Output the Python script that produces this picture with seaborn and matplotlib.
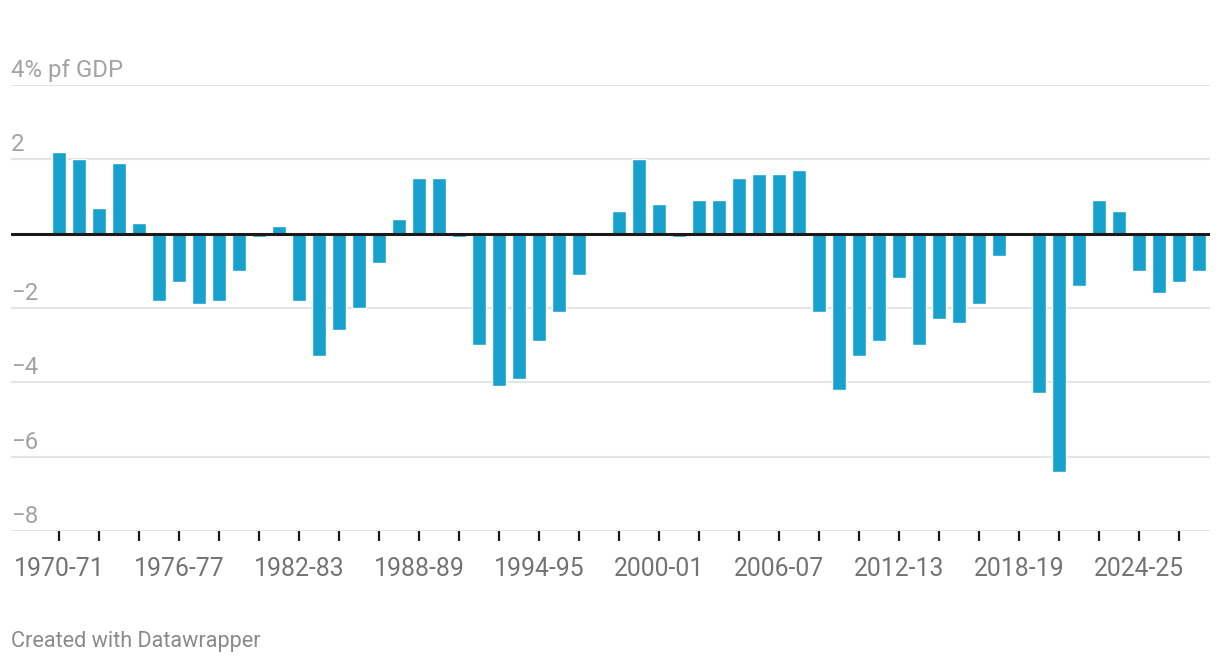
import numpy as np
import pandas as pd
import seaborn as sns
import matplotlib.pyplot as plt
from matplotlib import transforms

# fiscal years 1970-71 .. 2027-28
start_years = list(range(1970, 2028))
years = [f"{y}-{str(y + 1)[-2:]}" for y in start_years]

# balance, % of GDP
balance = [2.2, 2.0, 0.7, 1.9, 0.3, -1.8, -1.3, -1.9, -1.8, -1.0,
           -0.1, 0.2, -1.8, -3.3, -2.6, -2.0, -0.8, 0.4, 1.5, 1.5,
           -0.1, -3.0, -4.1, -3.9, -2.9, -2.1, -1.1, 0.0, 0.6, 2.0,
           0.8, -0.1, 0.9, 0.9, 1.5, 1.6, 1.6, 1.7, -2.1, -4.2,
           -3.3, -2.9, -1.2, -3.0, -2.3, -2.4, -1.9, -0.6, 0.0, -4.3,
           -6.4, -1.4, 0.9, 0.6, -1.0, -1.6, -1.3, -1.0]

y_ticks = [-8, -6, -4, -2, 2, 4]
y_labels = ["\u22128", "\u22126", "\u22124", "\u22122", "2", "4% pf GDP"]

df = pd.DataFrame({"year": years, "balance": balance})

sns.set_style("white")
plt.rcParams['font.family'] = ['Roboto', 'DejaVu Sans']

fig = plt.figure(figsize=(12.2, 6.64), dpi=100)
ax = fig.add_axes([11 / 1220, 1 - 531 / 664, 1199 / 1220, 446 / 664])

sns.barplot(data=df, x="year", y="balance", color="#18a1cd", width=0.72,
            saturation=1, ax=ax, zorder=3)

ax.set_xlim(-2.4, 57.55)
ax.set_ylim(-8, 4)

# grid lines
for v in y_ticks:
    ax.axhline(v, color="#e4e4e4", lw=1.5, zorder=1)
ax.axhline(0, color="#1a1a1a", lw=2.2, zorder=4)

# y labels sit above their grid line
off = transforms.offset_copy(ax.get_yaxis_transform(), fig=fig, x=0, y=8, units="dots")
for v, lab in zip(y_ticks, y_labels):
    ax.text(0, v, lab, transform=off, ha="left", va="baseline",
            fontsize=17.3, color="#a3a3a3")
ax.set_yticks([])

# x ticks every 2 years, labels every 6
tick_pos = list(range(0, len(years), 2))
tick_lab = [years[i] if i % 6 == 0 else "" for i in tick_pos]
ax.set_xticks(tick_pos)
ax.set_xticklabels(tick_lab)
ax.tick_params(axis="x", length=7, width=1.6, color="#1a1a1a", pad=12,
               labelsize=17.8, labelcolor="#737373", direction="out", bottom=True)

ax.set_xlabel("")
ax.set_ylabel("")
sns.despine(ax=ax, left=True, bottom=True, top=True, right=True)

fig.text(11 / 1220, 1 - 641 / 664, "Created with Datawrapper", fontsize=15.6,
         color="#8a8a8a", ha="left", va="center")

fig.savefig("out.png", dpi=100, facecolor="white")
